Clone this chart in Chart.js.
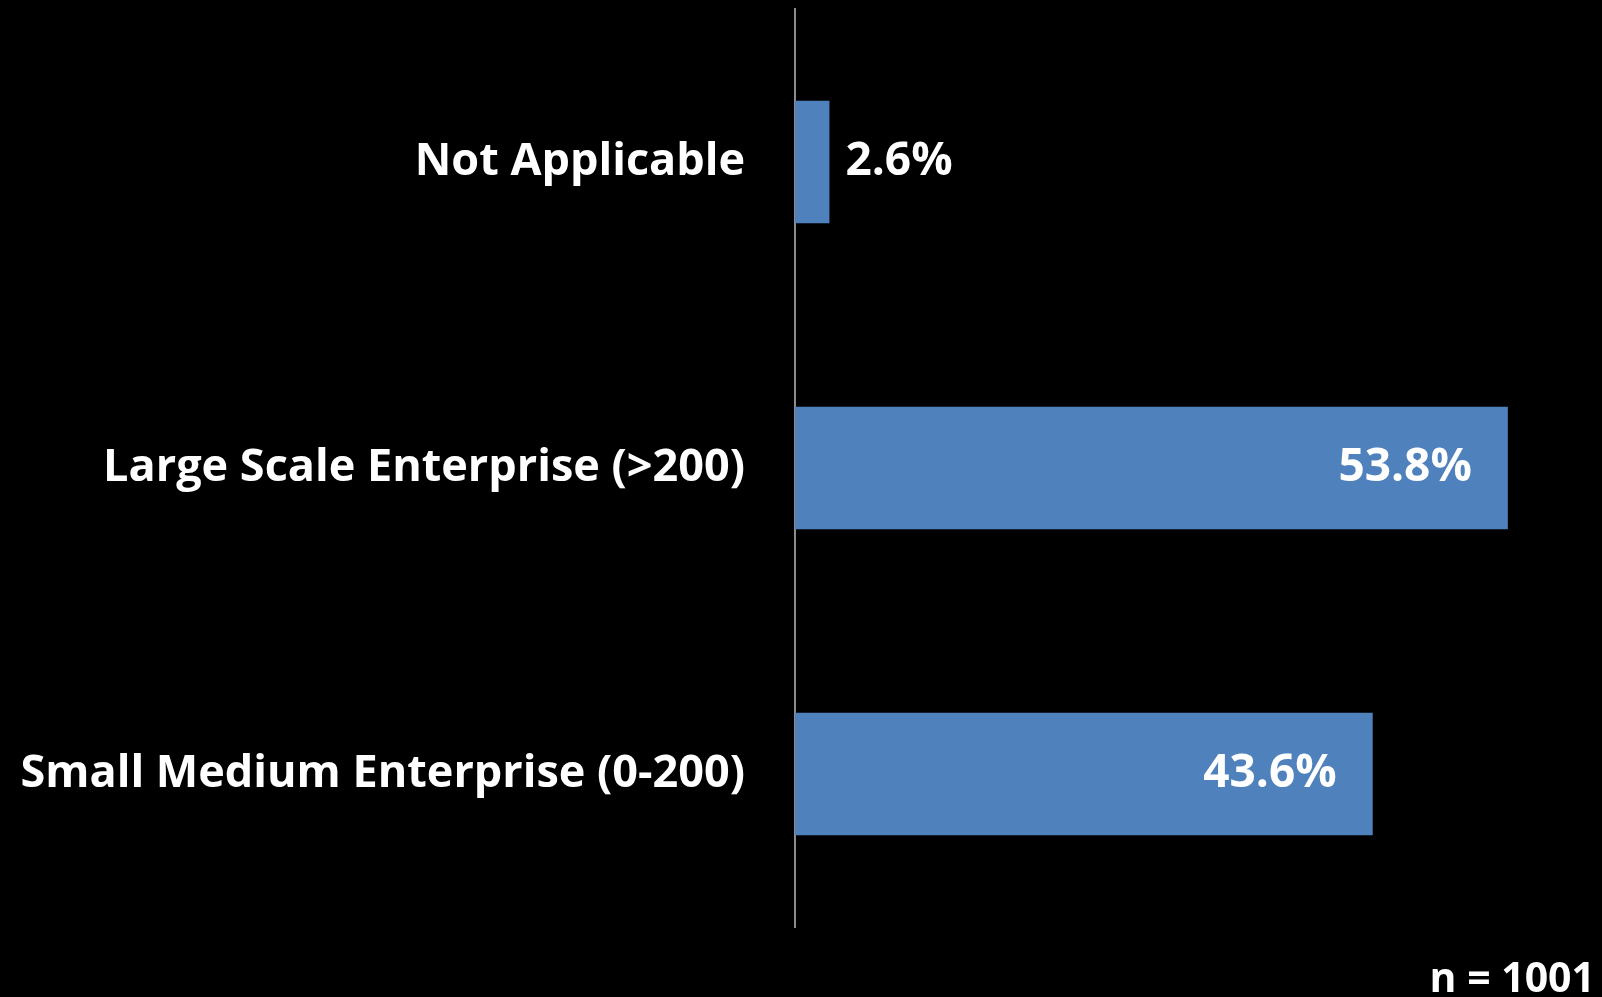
<!DOCTYPE html>
<html>
<head>
<meta charset="utf-8">
<title>Enterprise size</title>
<script src="https://cdn.jsdelivr.net/npm/chart.js@4"></script>
<style>
    html, body { margin: 0; padding: 0; background: #000; }
    #wrap { position: relative; width: 1602px; height: 997px; }
</style>
</head>
<body>
<div id="wrap"><canvas id="myChart"></canvas></div>
<script>
'use strict';
// datos
const categorias = ['Not Applicable', 'Large Scale Enterprise (>200)', 'Small Medium Enterprise (0-200)'];
const porcentajes = [2.6, 53.8, 43.6];
const muestra = 'n = 1001';

const FUENTE = '"Open Sans", Lato, sans-serif';

// etiquetas de valor: dentro de la barra si es larga, fuera si es corta
const etiquetasValor = {
    id: 'etiquetasValor',
    afterDatasetsDraw(chart) {
        const ctx = chart.ctx;
        const meta = chart.getDatasetMeta(0);
        ctx.save();
        ctx.fillStyle = '#fff';
        ctx.font = `bold 46px ${FUENTE}`;
        ctx.textBaseline = 'middle';
        meta.data.forEach((bar, i) => {
            const v = porcentajes[i];
            const txt = v.toFixed(1) + '%';
            if (v > 10) {
                ctx.textAlign = 'right';
                ctx.fillText(txt, bar.x - 36, bar.y);
            } else {
                ctx.textAlign = 'left';
                ctx.fillText(txt, bar.x + 16, bar.y);
            }
        });
        // tamaño de muestra abajo a la derecha
        ctx.font = `bold 41px ${FUENTE}`;
        ctx.textAlign = 'right';
        ctx.textBaseline = 'alphabetic';
        ctx.fillText(muestra, chart.width - 7, chart.height - 5);
        ctx.restore();
    }
};

const graficaChart = () => {
    const ctx = document.getElementById('myChart');
    new Chart(ctx.getContext('2d'), {
        type: 'bar',
        data: {
            labels: categorias,
            datasets: [{
                label: '',
                data: porcentajes,
                backgroundColor: '#4f81bd',
                borderWidth: 0,
                barPercentage: 0.4,
                categoryPercentage: 1
            }]
        },
        options: {
            indexAxis: 'y',
            responsive: true,
            maintainAspectRatio: false,
            animation: false,
            layout: {
                padding: { top: 9, bottom: 70, left: 0, right: 12 }
            },
            plugins: {
                legend: { display: false },
                tooltip: { enabled: false }
            },
            scales: {
                x: {
                    display: false,
                    min: 0,
                    max: 60
                },
                y: {
                    // ancho fijo del eje y sin relleno extra arriba/abajo
                    afterFit: scale => {
                        scale.width = 795;
                        scale.paddingTop = 0;
                        scale.paddingBottom = 0;
                    },
                    grid: { display: false, drawTicks: false },
                    border: { display: true, color: '#8c8c8c', width: 2 },
                    ticks: {
                        color: '#fff',
                        padding: 50,
                        font: { family: FUENTE, size: 45, weight: 'bold' }
                    }
                }
            }
        },
        plugins: [etiquetasValor]
    });
}

window.addEventListener('load', () => {
    graficaChart();
});
</script>
</body>
</html>
